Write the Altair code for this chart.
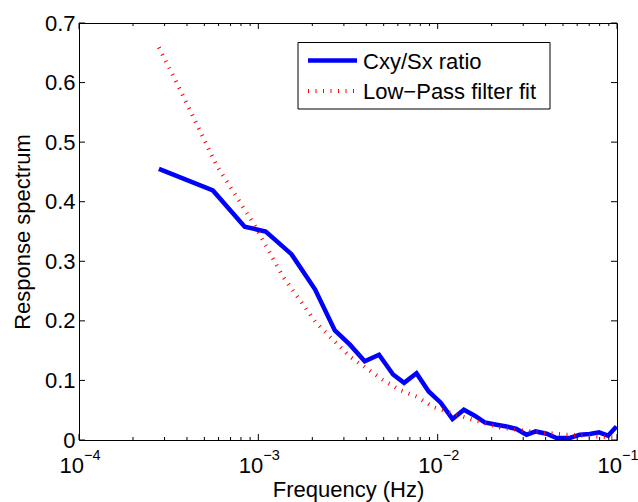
import altair as alt
import pandas as pd

# ---------------- data ----------------
freq_ratio = [2.79e-4, 5.58e-4, 8.39e-4, 1.10e-3, 1.53e-3, 2.07e-3, 2.67e-3, 3.24e-3,
              3.92e-3, 4.71e-3, 5.64e-3, 6.50e-3, 7.62e-3, 8.91e-3, 1.04e-2, 1.21e-2,
              1.40e-2, 1.61e-2, 1.83e-2, 2.13e-2, 2.42e-2, 2.75e-2, 3.13e-2, 3.52e-2,
              4.05e-2, 4.60e-2, 5.46e-2, 6.21e-2, 7.05e-2, 7.94e-2, 8.91e-2, 9.93e-2]
value_ratio = [0.455, 0.419, 0.358, 0.350, 0.312, 0.253, 0.184, 0.160,
               0.132, 0.143, 0.110, 0.096, 0.112, 0.0815, 0.0626, 0.0352,
               0.0508, 0.0408, 0.0295, 0.0257, 0.0228, 0.0185, 0.0089, 0.0144,
               0.0106, 0.0034, 0.0034, 0.0089, 0.0101, 0.0128, 0.0072, 0.0228]

freq_fit = [2.79e-4, 3.79e-4, 5.83e-4, 9.55e-4, 1.37e-3, 2.11e-3, 3.24e-3, 4.95e-3,
            6.14e-3, 7.62e-3, 9.5e-3, 1.45e-2, 2.22e-2, 3.40e-2, 5.22e-2, 9.9e-2]
value_fit = [0.659, 0.579, 0.462, 0.360, 0.2745, 0.196, 0.140, 0.101,
             0.084, 0.073, 0.055, 0.037, 0.021, 0.014, 0.009, 0.004]

series_names = ["Cxy/Sx ratio", "Low\u2212Pass filter fit"]
x_major = [1e-4, 1e-3, 1e-2, 1e-1]
x_exponents = ["\u22124", "\u22123", "\u22122", "\u22121"]
x_minor = [k * d for d in [1e-4, 1e-3, 1e-2] for k in range(2, 10)]
y_ticks = [0, 0.1, 0.2, 0.3, 0.4, 0.5, 0.6, 0.7]

# ---------------- layout / style ----------------
W, H = 538, 417
FONT = "Liberation Sans"
BLUE = "#0000ff"
RED = "#ff0000"

xs = alt.Scale(type="log", domain=[1e-4, 1e-1], nice=False)
ys = alt.Scale(domain=[0, 0.7], nice=False, zero=False)

ratio_df = pd.DataFrame({"f": freq_ratio, "v": value_ratio})
fit_df = pd.DataFrame({"f": freq_fit, "v": value_fit})

x_axis = alt.Axis(labels=False, ticks=False, domain=False, grid=False,
                  title="Frequency (Hz)", titleFont=FONT, titleFontSize=22,
                  titleFontWeight="normal", titleColor="black",
                  titleY=56, titleBaseline="alphabetic")
y_axis = alt.Axis(values=y_ticks, format=".1~f", labelFont=FONT, labelFontSize=22,
                  labelColor="black", labelPadding=4, ticks=False, domain=False,
                  grid=False, labelFlush=False, labelOverlap=False,
                  title="Response spectrum", titleFont=FONT, titleFontSize=22,
                  titleFontWeight="normal", titleColor="black", titleAngle=270,
                  titleAlign="center", titleBaseline="alphabetic",
                  titleX=-50, titleY=H / 2)

X = lambda: alt.X("f:Q", scale=xs, axis=x_axis, title="Frequency (Hz)")
Y = lambda: alt.Y("v:Q", scale=ys, axis=y_axis, title="Response spectrum")

blue = alt.Chart(ratio_df).mark_line(color=BLUE, strokeWidth=4.5).encode(x=X(), y=Y())
red = alt.Chart(fit_df).mark_line(color=RED, strokeWidth=4, strokeDash=[1, 6.5]).encode(
    x=X(), y=Y())

# ---- inward ticks on all four sides (MATLAB box style) ----
xmaj_df = pd.DataFrame({"f": x_major})
xmin_df = pd.DataFrame({"f": x_minor})
yt_df = pd.DataFrame({"v": y_ticks})

def xticks(df, y0, y1):
    return alt.Chart(df).mark_rule(color="black", strokeWidth=1).encode(
        x=X(), y=alt.value(y0), y2=alt.value(y1))

def yticks(x0, x1):
    return alt.Chart(yt_df).mark_rule(color="black", strokeWidth=1).encode(
        y=Y(), x=alt.value(x0), x2=alt.value(x1))

ticks = [
    xticks(xmaj_df, H, H - 6), xticks(xmin_df, H, H - 3),
    xticks(xmaj_df, 0, 6), xticks(xmin_df, 0, 3),
    yticks(0, 6), yticks(W, W - 6),
]

# ---- x tick labels as 10 with superscript exponent ----
xl_df = pd.DataFrame({"f": x_major, "base": ["10"] * len(x_major), "exp": x_exponents})
base_txt = alt.Chart(xl_df).mark_text(font=FONT, fontSize=22, align="right",
                                      baseline="alphabetic", dx=5, color="black").encode(
    x=X(), y=alt.value(H + 33), text="base:N")
exp_txt = alt.Chart(xl_df).mark_text(font=FONT, fontSize=14.5, align="left",
                                     baseline="alphabetic", dx=5, color="black").encode(
    x=X(), y=alt.value(H + 20), text="exp:N")

# ---- legend box ----
one = pd.DataFrame({"a": [0]})
leg_box = alt.Chart(one).mark_rect(fill="white", stroke="black", strokeWidth=1).encode(
    x=alt.value(219), x2=alt.value(471), y=alt.value(19.5), y2=alt.value(86))
leg_blue = alt.Chart(one).mark_rule(color=BLUE, strokeWidth=4.5).encode(
    x=alt.value(229), x2=alt.value(278), y=alt.value(37.5))
leg_red = alt.Chart(one).mark_rule(color=RED, strokeWidth=4, strokeDash=[1, 6.5]).encode(
    x=alt.value(229), x2=alt.value(278), y=alt.value(68))
leg_t1 = alt.Chart(one).mark_text(font=FONT, fontSize=22, align="left", baseline="middle",
                                  color="black").encode(
    x=alt.value(284), y=alt.value(38.5), text=alt.value(series_names[0]))
leg_t2 = alt.Chart(one).mark_text(font=FONT, fontSize=22, align="left", baseline="middle",
                                  color="black").encode(
    x=alt.value(284), y=alt.value(69), text=alt.value(series_names[1]))

chart = alt.layer(
    blue, red, *ticks, base_txt, exp_txt, leg_box, leg_blue, leg_red, leg_t1, leg_t2
).properties(
    width=W, height=H,
    padding={"left": 79, "top": 23, "right": 21, "bottom": 62},
    autosize=alt.AutoSizeParams(type="none"),
    background="white",
).configure_view(stroke="black", strokeWidth=1)

chart.save("out.html", embed_options={"renderer": "svg", "actions": False})
